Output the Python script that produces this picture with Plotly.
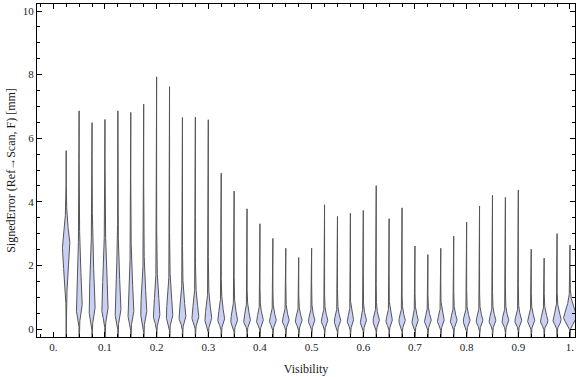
import numpy as np
import plotly.graph_objects as go

# ---- data ----
visibility = [0.025, 0.05, 0.075, 0.1, 0.125, 0.15, 0.175, 0.2, 0.225, 0.25,
              0.275, 0.3, 0.325, 0.35, 0.375, 0.4, 0.425, 0.45, 0.475, 0.5,
              0.525, 0.55, 0.575, 0.6, 0.625, 0.65, 0.675, 0.7, 0.725, 0.75,
              0.775, 0.8, 0.825, 0.85, 0.875, 0.9, 0.925, 0.95, 0.975, 1.0]
max_error = [5.61, 6.86, 6.49, 6.59, 6.86, 6.81, 7.07, 7.93, 7.62, 6.65,
             6.66, 6.58, 4.90, 4.34, 3.78, 3.31, 2.85, 2.54, 2.25, 2.54,
             3.91, 3.54, 3.64, 3.73, 4.51, 3.47, 3.81, 2.61, 2.34, 2.54,
             2.92, 3.36, 3.87, 4.21, 4.14, 4.37, 2.51, 2.23, 3.00, 2.64]
min_error = [-0.25, -0.6, -0.4, -0.6, -0.6, -0.4, -0.6, -0.3, -0.6, -0.5,
             -0.3, -0.3, -0.4, -0.4, -0.3, -0.25, -0.25, -0.25, -0.25, -0.25,
             -0.25, -0.25, -0.25, -0.25, -0.25, -0.25, -0.25, -0.25, -0.25, -0.25,
             -0.25, -0.25, -0.25, -0.25, -0.25, -0.25, -0.25, -0.25, -0.25, -0.25]
mode_error = [2.6, 0.7, 0.6, 0.6, 0.55, 0.5, 0.5, 0.4, 0.4, 0.35,
              0.35, 0.3, 0.28, 0.25, 0.25, 0.25, 0.25, 0.25, 0.25, 0.25,
              0.25, 0.25, 0.25, 0.25, 0.25, 0.25, 0.25, 0.25, 0.25, 0.25,
              0.25, 0.25, 0.25, 0.25, 0.25, 0.25, 0.25, 0.25, 0.28, 0.38]
lower_spread = [0.8, 0.26, 0.24, 0.24, 0.23, 0.21, 0.21, 0.17, 0.17, 0.15,
                0.15, 0.14, 0.13, 0.12, 0.12, 0.12, 0.12, 0.12, 0.12, 0.12,
                0.12, 0.12, 0.12, 0.12, 0.12, 0.12, 0.12, 0.12, 0.12, 0.12,
                0.12, 0.12, 0.12, 0.12, 0.12, 0.12, 0.12, 0.12, 0.13, 0.18]
upper_spread = [0.45, 0.95, 1.05, 1.05, 0.9, 0.8, 0.7, 0.6, 0.55, 0.45,
                0.4, 0.35, 0.3, 0.26, 0.23, 0.2, 0.18, 0.18, 0.17, 0.17,
                0.17, 0.17, 0.17, 0.17, 0.17, 0.17, 0.17, 0.17, 0.17, 0.17,
                0.17, 0.17, 0.17, 0.17, 0.17, 0.17, 0.17, 0.18, 0.2, 0.25]
peak_density = [1.1, 0.9, 0.9, 0.9, 0.9, 0.9, 0.9, 0.95, 0.95, 1.0,
                1.0, 1.0, 1.0, 1.0, 1.0, 1.0, 1.0, 1.0, 1.0, 0.95,
                0.95, 0.95, 0.95, 0.95, 0.95, 0.95, 0.95, 0.95, 1.0, 1.0,
                1.0, 1.0, 1.0, 1.0, 1.0, 1.0, 1.05, 1.1, 1.2, 1.9]

x_ticks = [0, 0.1, 0.2, 0.3, 0.4, 0.5, 0.6, 0.7, 0.8, 0.9, 1.0]
x_tick_text = ["0.", "0.1", "0.2", "0.3", "0.4", "0.5", "0.6", "0.7", "0.8", "0.9", "1."]
y_ticks = [0, 2, 4, 6, 8, 10]

# ---- styling ----
HALF_WIDTH = 0.0066          # half width (x units) of a violin at density 1
FILL = "#c9d0f4"
EDGE = "#555555"
FONT = "Liberation Serif"

xs_all, ys_all = [], []
for pos, lo, hi, m, sl, su, pk in zip(visibility, min_error, max_error, mode_error,
                                      lower_spread, upper_spread, peak_density):
    ys = np.linspace(lo, hi, 400)
    d = ys - m
    w = np.where(d < 0, np.exp(-0.5 * (d / sl) ** 2), 1.0 / np.cosh(d / su))
    w = pk * HALF_WIDTH * w
    xr = pos + w
    xl = pos - w
    xs = np.concatenate([xr, xl[::-1], [xr[0]]])
    yy = np.concatenate([ys, ys[::-1], [ys[0]]])
    xs_all.extend(xs.tolist() + [None])
    ys_all.extend(yy.tolist() + [None])

fig = go.Figure()
fig.add_trace(go.Scatter(x=xs_all, y=ys_all, mode="lines", fill="toself",
                         fillcolor=FILL, line=dict(color=EDGE, width=1),
                         hoverinfo="skip"))

fig.update_layout(
    width=576, height=377,
    margin=dict(l=37, r=1, t=4, b=40),
    plot_bgcolor="white", paper_bgcolor="white",
    showlegend=False,
    font=dict(family=FONT, size=11, color="#1a1a1a"),
)
fig.update_xaxes(
    range=[-0.0315, 1.0097], autorange=False,
    tickvals=x_ticks, ticktext=x_tick_text,
    ticks="inside", ticklen=5, tickwidth=1, tickcolor="black",
    minor=dict(dtick=0.025, tick0=0, ticks="inside", ticklen=3, tickcolor="black", showgrid=False),
    showline=True, linecolor="black", linewidth=1, mirror="ticks",
    showgrid=False, zeroline=False, automargin=False,
    tickfont=dict(family=FONT, size=11, color="#1a1a1a"),
    title=dict(text="Visibility", font=dict(family=FONT, size=12, color="#1a1a1a"), standoff=12),
)
fig.update_yaxes(
    range=[-0.25, 10.22], autorange=False,
    tickvals=y_ticks,
    ticks="inside", ticklen=5, tickwidth=1, tickcolor="black",
    minor=dict(dtick=0.5, tick0=0, ticks="inside", ticklen=3, tickcolor="black", showgrid=False),
    showline=True, linecolor="black", linewidth=1, mirror="ticks",
    showgrid=False, zeroline=False, automargin=False,
    tickfont=dict(family=FONT, size=11, color="#1a1a1a"),
    title=dict(text="SignedError (Ref→Scan, F) [mm]", font=dict(family=FONT, size=12, color="#1a1a1a"), standoff=4),
)

fig.write_html("out.html", config={"displayModeBar": False},
               post_script="document.body.style.margin='0px';document.body.style.overflow='hidden';")
